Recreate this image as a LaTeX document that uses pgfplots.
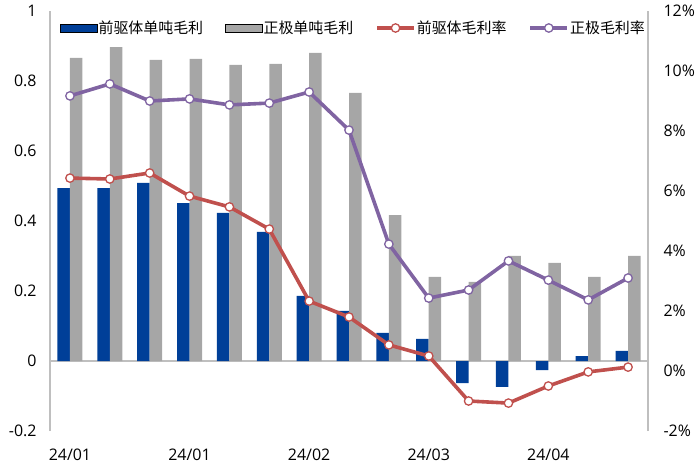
\documentclass[border=0pt]{standalone}
\usepackage{fontspec}
\setmainfont{Open Sans}
\newfontfamily\cjk{Noto Sans CJK SC}
\usepackage{pgfplots}
\usepackage{pgfplotstable}
\pgfplotsset{compat=1.18}
\definecolor{cblue}{RGB}{0,63,152}
\definecolor{cgray}{RGB}{166,166,166}
\definecolor{cred}{RGB}{192,80,77}
\definecolor{cpurple}{RGB}{128,100,162}
\definecolor{axgray}{RGB}{191,191,191}

\pgfplotstableread{
x blue gray red purple
0 0.494 0.866 6.43 9.17
1 0.494 0.897 6.40 9.57
2 0.509 0.860 6.60 9.00
3 0.451 0.863 5.83 9.07
4 0.423 0.846 5.47 8.87
5 0.369 0.849 4.73 8.93
6 0.186 0.880 2.33 9.30
7 0.143 0.766 1.80 8.03
8 0.080 0.417 0.87 4.23
9 0.063 0.240 0.50 2.43
10 -0.063 0.226 -1.00 2.70
11 -0.074 0.300 -1.07 3.67
12 -0.026 0.280 -0.50 3.03
13 0.014 0.240 -0.03 2.37
14 0.029 0.300 0.13 3.10
}\data

\begin{document}
\begin{tikzpicture}
\pgfplotsset{
  common/.style={
    scale only axis, width=598bp, height=420bp,
    xmin=-0.5, xmax=14.5,
    xtick={0,3,6,9,12},
    major tick length=0pt,
    tick style={draw=none},
    axis line style={draw=none},
    /pgf/number format/assume math mode=true,
    ticklabel style={font=\fontsize{16}{19}\selectfont},
    clip=false,
  },
  barleg/.style={legend image code/.code={\fill[##1] (0bp,-4bp) rectangle (37bp,4bp);}},
  lineleg/.style={legend image code/.code={\draw[mark repeat=2,mark phase=2,##1] plot coordinates {(0bp,0bp) (18.5bp,0bp) (37bp,0bp)};}},
}
\begin{axis}[common,
  ymin=-0.2, ymax=1,
  ytick={-0.2,0,0.2,0.4,0.6,0.8,1},
  yticklabel style={xshift=-10bp},
  xticklabels={24/01,24/01,24/02,24/03,24/04},
  xticklabel style={yshift=-14bp},
  ybar=0pt, bar width=12.5bp,
]
\draw[axgray, line width=1.2bp] (axis cs:-0.5,0) -- (axis cs:14.5,0);
\draw[axgray, line width=1.2bp] (rel axis cs:0,0) -- (rel axis cs:0,1);
\draw[axgray, line width=1.2bp] (rel axis cs:1,0) -- (rel axis cs:1,1);
\addplot[fill=cblue, draw=none] table[x=x, y=blue] {\data};
\addplot[fill=cgray, draw=none] table[x=x, y=gray] {\data};
\end{axis}
\begin{axis}[common,
  ymin=-2, ymax=12,
  ytick={-2,0,2,4,6,8,10,12},
  yticklabel={\pgfmathprintnumber[assume math mode=true]{\tick}\%},
  axis y line*=right,
  axis x line*=bottom,
  xticklabels={},
  yticklabel style={xshift=12bp, anchor=west},
  legend columns=4,
  legend style={at={(rel axis cs:0.0167,0.9595)}, anchor=west, draw=none, fill=none,
    inner sep=0pt, font=\cjk\fontsize{15}{17}\selectfont,
    /tikz/every even column/.append style={column sep=21bp},
    nodes={inner sep=1bp}},
]
\addlegendimage{barleg, fill=cblue}
\addlegendentry{前驱体单吨毛利}
\addlegendimage{barleg, fill=cgray}
\addlegendentry{正极单吨毛利}
\addplot[cred, line width=3.6bp, mark=*, mark size=4.2bp,
  mark options={fill=white, draw=cred, line width=1.3bp}, lineleg]
  table[x=x, y=red] {\data};
\addlegendentry{前驱体毛利率}
\addplot[cpurple, line width=3.6bp, mark=*, mark size=4.2bp,
  mark options={fill=white, draw=cpurple, line width=1.3bp}, lineleg]
  table[x=x, y=purple] {\data};
\addlegendentry{正极毛利率}
\end{axis}
\pgfresetboundingbox
\path[use as bounding box] (-50bp,-36bp) rectangle (650bp,431bp);
\end{tikzpicture}
\end{document}
